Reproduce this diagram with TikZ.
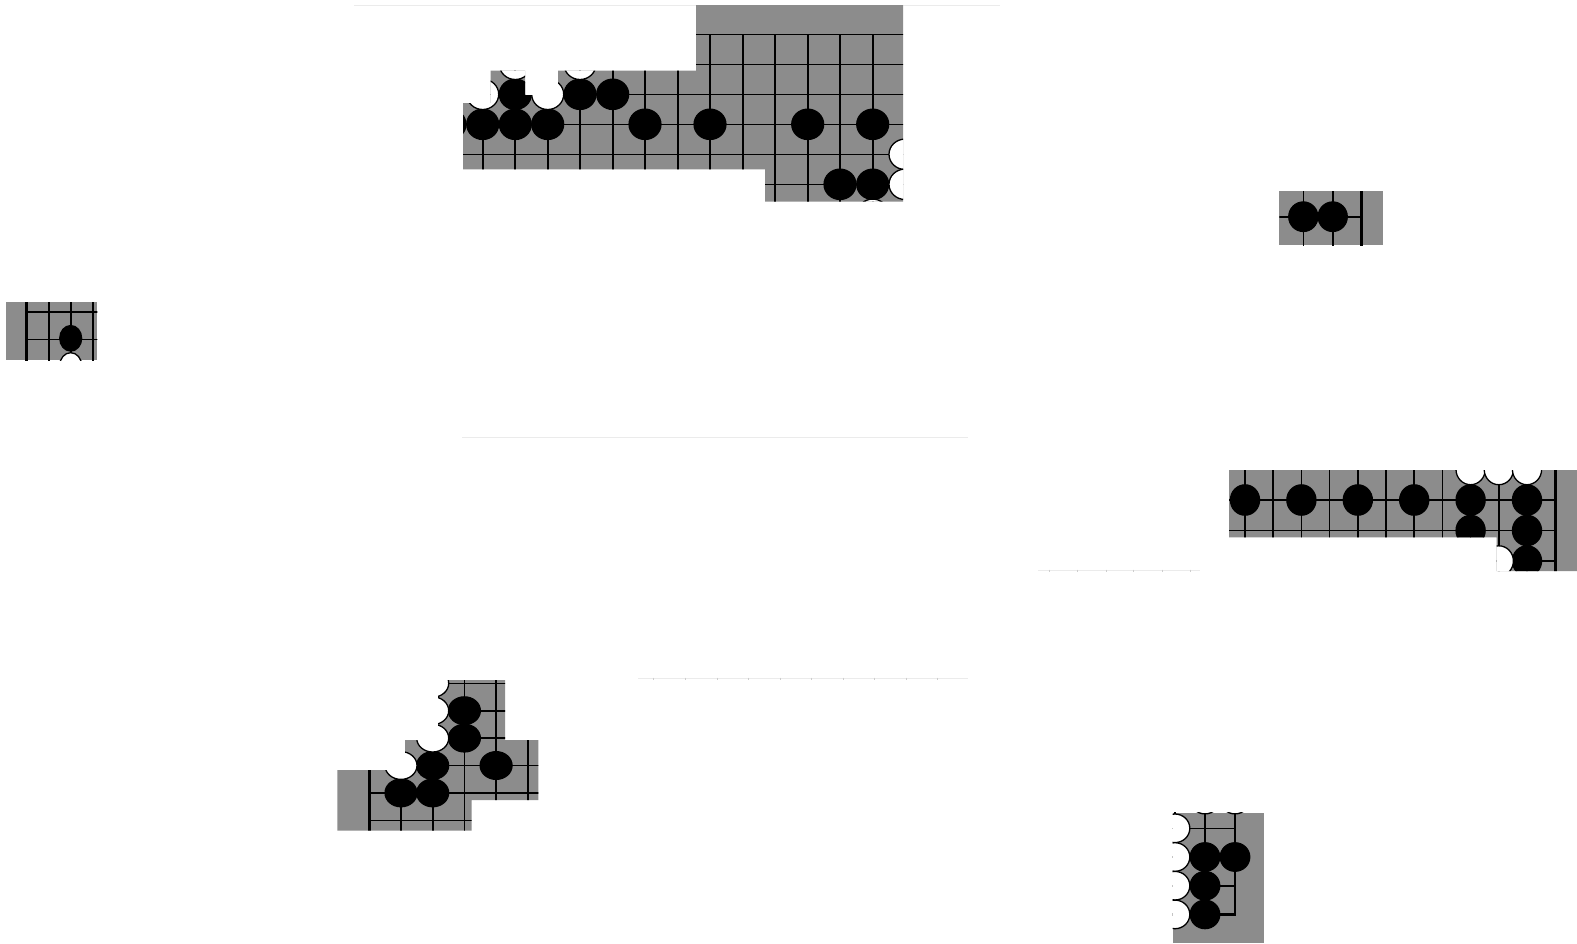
\documentclass[tikz,border=0pt]{standalone}
\usepackage{tikz}
\usepackage{xcolor}
\definecolor{boardGray}{HTML}{8C8C8C}
\definecolor{ruleGray}{HTML}{EBEBEB}
\definecolor{tickGray}{HTML}{CDCDCD}
\tikzset{
  boardFill/.style={fill=boardGray},
  gridLine/.style={draw=black, line width=1.6pt},
  edgeLine/.style={draw=black, line width=2.6pt},
  blackStone/.style={fill=black, draw=black, line width=1.2pt},
  whiteStone/.style={fill=white, draw=black, line width=1.3pt},
  faintRule/.style={draw=ruleGray, line width=1pt},
  faintTick/.style={draw=tickGray, line width=1pt},
  topShape/.style={insert path={(463,169.3) -- (463,103) -- (490.5,103) -- (490.5,70.5) -- (525,70.5) -- (525,95)
      -- (558,95) -- (558,70.5) -- (696,70.5) -- (696,5) -- (903,5) -- (903,201.5) -- (765,201.5) -- (765,169.3) -- cycle}},
  rowShape/.style={insert path={(1229,470) -- (1577,470) -- (1577,571) -- (1496.7,571) -- (1496.7,537.3) -- (1229,537.3) -- cycle}},
  stairShape/.style={insert path={(337.3,770) -- (405,770) -- (405,740) -- (438,740) -- (438,680) -- (505,680) -- (505,740)
      -- (538.3,740) -- (538.3,800) -- (471.7,800) -- (471.7,830.7) -- (337.3,830.7) -- cycle}}
}

\begin{document}
\begin{tikzpicture}[x=1pt, y=-1pt]
  \useasboundingbox (0,0) rectangle (1577,943);
  \fill[white] (0,0) rectangle (1577,943);

  \draw[faintRule] (354,5) -- (1000,5);
  \draw[faintRule] (462,437) -- (968,437);
  \draw[faintRule] (638,678.5) -- (968,678.5);
  \foreach \t in {653,685,717,748,780,811,843,874,906,937}
    \draw[faintTick] (\t,677.5) -- (\t,679.5);
  \draw[faintRule] (1038,570.5) -- (1200,570.5);
  \foreach \t in {1049,1077,1106,1133,1162,1190}
    \draw[faintTick] (\t,569.5) -- (\t,571.5);

  \begin{scope}
    \fill[boardFill, topShape];
    \clip[topShape];
    \foreach \k in {-1,...,13}
      \draw[gridLine] ({482.7+32.5*\k},34.3) -- ({482.7+32.5*\k},210);
    \foreach \y in {34.3,64.3,94.3,124.3,154.3,184.3}
      \draw[gridLine] (440,\y) -- (910,\y);
    \foreach \x/\y in {450/124.3,482.7/124.3,515.3/124.3,547.7/124.3,645/124.3,710/124.3,807.7/124.3,872.7/124.3,
                       515.3/94.3,580/94.3,612.7/94.3,840/184.3,872.7/184.3}
      \draw[blackStone] (\x,\y) ellipse [x radius=16, y radius=15.2];
    \foreach \x/\y in {515.3/64.3,580/64.3,482.7/94.3,547.7/94.3,905/154.3,905/184.3,872.7/214.3}
      \draw[whiteStone] (\x,\y) ellipse [x radius=16, y radius=15.2];
  \end{scope}

  \begin{scope}
    \fill[boardFill] (6,302.3) rectangle (97.3,360);
    \clip (6,302.3) rectangle (97.3,360);
    \foreach \x in {48.7,70.7,92.7}
      \draw[gridLine] (\x,300) -- (\x,362);
    \draw[edgeLine] (26.7,300) -- (26.7,362);
    \foreach \y in {311.7,339.3}
      \draw[gridLine] (26.7,\y) -- (99,\y);
    \draw[blackStone] (70.7,338.3) ellipse [x radius=11, y radius=12.8];
    \draw[whiteStone] (70.7,365.5) ellipse [x radius=11, y radius=12.8];
  \end{scope}

  \begin{scope}
    \fill[boardFill] (1279.3,191) rectangle (1382.7,245);
    \clip (1279.3,191) rectangle (1382.7,245);
    \foreach \x in {1303.3,1332.7}
      \draw[gridLine] (\x,189) -- (\x,247);
    \draw[edgeLine] (1361.7,189) -- (1361.7,247);
    \draw[gridLine] (1277,216.7) -- (1361.7,216.7);
    \foreach \x in {1303.3,1332.7}
      \draw[blackStone] (\x,216.7) ellipse [x radius=14.6, y radius=14.8];
  \end{scope}

  \begin{scope}
    \fill[boardFill, rowShape];
    \clip[rowShape];
    \foreach \k in {0,...,10}
      \draw[gridLine] ({1245+28.2*\k},468) -- ({1245+28.2*\k},573);
    \draw[edgeLine] (1555.2,468) -- (1555.2,573);
    \foreach \y in {500,530.5,561}
      \draw[gridLine] (1227,\y) -- (1555.2,\y);
    \foreach \x/\y in {1245/500,1301.4/500,1357.8/500,1414.2/500,1470.6/500,1527/500,1470.6/530.5,1527/530.5,1527/561}
      \draw[blackStone] (\x,\y) ellipse [x radius=14.6, y radius=15.2];
    \foreach \x/\y in {1470.6/469.5,1498.8/469.5,1527/469.5,1498.8/561}
      \draw[whiteStone] (\x,\y) ellipse [x radius=14.6, y radius=15.2];
  \end{scope}

  \begin{scope}
    \fill[boardFill, stairShape];
    \clip[stairShape];
    \foreach \k in {1,...,5}
      \draw[gridLine] ({369.3+31.7*\k},670) -- ({369.3+31.7*\k},840);
    \draw[edgeLine] (369.3,670) -- (369.3,840);
    \foreach \j in {0,...,5}
      \draw[gridLine] (369.3,{683.3+27.4*\j}) -- (545,{683.3+27.4*\j});
    \foreach \x/\y in {464.4/710.7,464.4/738.1,432.7/765.5,496.1/765.5,401/792.9,432.7/792.9}
      \draw[blackStone] (\x,\y) ellipse [x radius=16, y radius=13.9];
    \foreach \x/\y in {432.7/683.3,432.7/710.7,432.7/738.1,401/765.5}
      \draw[whiteStone] (\x,\y) ellipse [x radius=16, y radius=13.9];
  \end{scope}

  \begin{scope}
    \fill[boardFill] (1172.7,812.7) rectangle (1264,943);
    \clip (1172.7,812.7) rectangle (1264,943);
    \foreach \x in {1175,1205}
      \draw[gridLine] (\x,810) -- (\x,914.4);
    \foreach \y in {828.3,857,885.7}
      \draw[gridLine] (1170,\y) -- (1235,\y);
    \draw[edgeLine] (1170,914.4) -- (1235,914.4) -- (1235,810);
    \foreach \x/\y in {1205/857,1235/857,1205/885.7,1205/914.4}
      \draw[blackStone] (\x,\y) ellipse [x radius=14.8, y radius=14.3];
    \foreach \x/\y in {1175/828.3,1175/857,1175/885.7,1175/914.4,1205/799.6,1235/799.6}
      \draw[whiteStone] (\x,\y) ellipse [x radius=14.8, y radius=14.3];
  \end{scope}
\end{tikzpicture}
\end{document}
